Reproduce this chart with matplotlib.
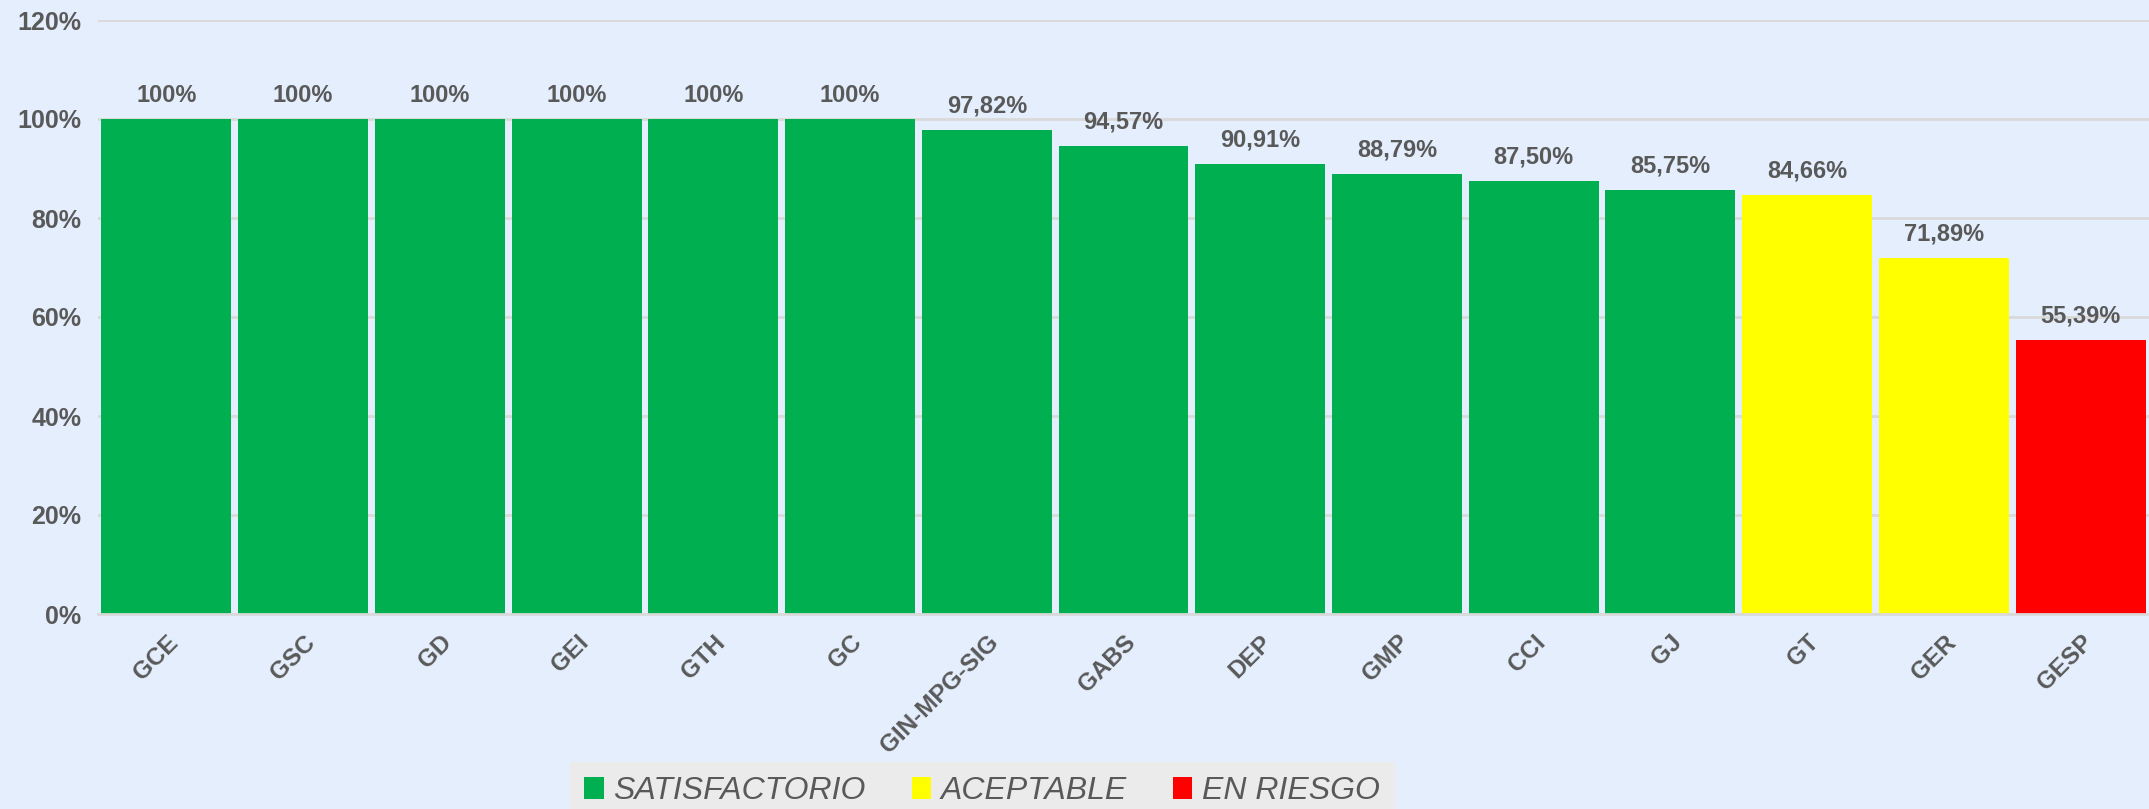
import numpy as np
import matplotlib
matplotlib.use("Agg")
import matplotlib.pyplot as plt
from matplotlib.patches import Patch
from matplotlib import font_manager

# Datos
areas = ["GCE", "GSC", "GD", "GEI", "GTH", "GC", "GIN-MPG-SIG", "GABS",
         "DEP", "GMP", "CCI", "GJ", "GT", "GER", "GESP"]
valores = [100, 100, 100, 100, 100, 100, 97.82, 94.57,
           90.91, 88.79, 87.50, 85.75, 84.66, 71.89, 55.39]
etiquetas = ["100%", "100%", "100%", "100%", "100%", "100%", "97,82%", "94,57%",
             "90,91%", "88,79%", "87,50%", "85,75%", "84,66%", "71,89%", "55,39%"]
estado = ["S"] * 12 + ["A", "A", "R"]

colores = {"S": "#00B050", "A": "#FFFF00", "R": "#FF0000"}
nombres = {"S": "SATISFACTORIO", "A": "ACEPTABLE", "R": "EN RIESGO"}
fondo = "#E4EEFC"
gris = "#595959"

nombres_fuentes = {f.name for f in font_manager.fontManager.ttflist}
fuente = "Liberation Sans" if "Liberation Sans" in nombres_fuentes else "DejaVu Sans"
fuente_ley = "Liberation Sans Narrow" if "Liberation Sans Narrow" in nombres_fuentes else fuente

fig = plt.figure(figsize=(21.49, 8.09), dpi=100, facecolor=fondo)
ax = fig.add_axes([98 / 2149, 1 - 614 / 809, 1 - 98 / 2149, 594 / 809])
ax.set_facecolor(fondo)

x = np.arange(len(areas))
barras = ax.bar(x, valores, width=0.95, color=[colores[e] for e in estado], zorder=2)

for b, t in zip(barras, etiquetas):
    ax.annotate(t, (b.get_x() + b.get_width() / 2, b.get_height()),
                xytext=(0, 9), textcoords="offset points", ha="center", va="bottom",
                fontsize=17, fontweight="bold", color=gris, family=fuente)

ax.set_xlim(-0.5, len(areas) - 0.5)
ax.set_ylim(0, 120)
ax.set_yticks(np.arange(0, 121, 20))
ax.set_yticklabels([f"{v}%" for v in range(0, 121, 20)], fontsize=18,
                   fontweight="bold", color=gris, family=fuente)
ax.set_xticks(x)
ax.set_xticklabels(areas, rotation=45, ha="right", va="top", rotation_mode="anchor",
                   fontsize=17.5, fontweight="bold", color=gris, family=fuente)
ax.tick_params(axis="both", length=0)
ax.tick_params(axis="x", pad=12)
ax.tick_params(axis="y", pad=12)
ax.grid(axis="y", color="#D9D9D9", linewidth=2, zorder=0)
for s in ["top", "right", "left"]:
    ax.spines[s].set_visible(False)
ax.spines["bottom"].set_color("#D9D9D9")
ax.spines["bottom"].set_linewidth(2)

manejadores = [Patch(facecolor=colores[k], label=nombres[k]) for k in ["S", "A", "R"]]
ley = fig.legend(handles=manejadores, loc="upper left", bbox_to_anchor=(570 / 2149, 1 - 762 / 809),
                 ncol=3, frameon=True, fancybox=False, facecolor="#EBEBEB", edgecolor="#EBEBEB",
                 framealpha=1, handlelength=0.6, handleheight=0.7, handletextpad=0.3,
                 columnspacing=1.45, borderpad=0.45, borderaxespad=0,
                 prop={"family": fuente_ley, "style": "italic", "size": 23})
for t in ley.get_texts():
    t.set_color(gris)

fig.savefig("out.png", dpi=100, facecolor=fondo)
